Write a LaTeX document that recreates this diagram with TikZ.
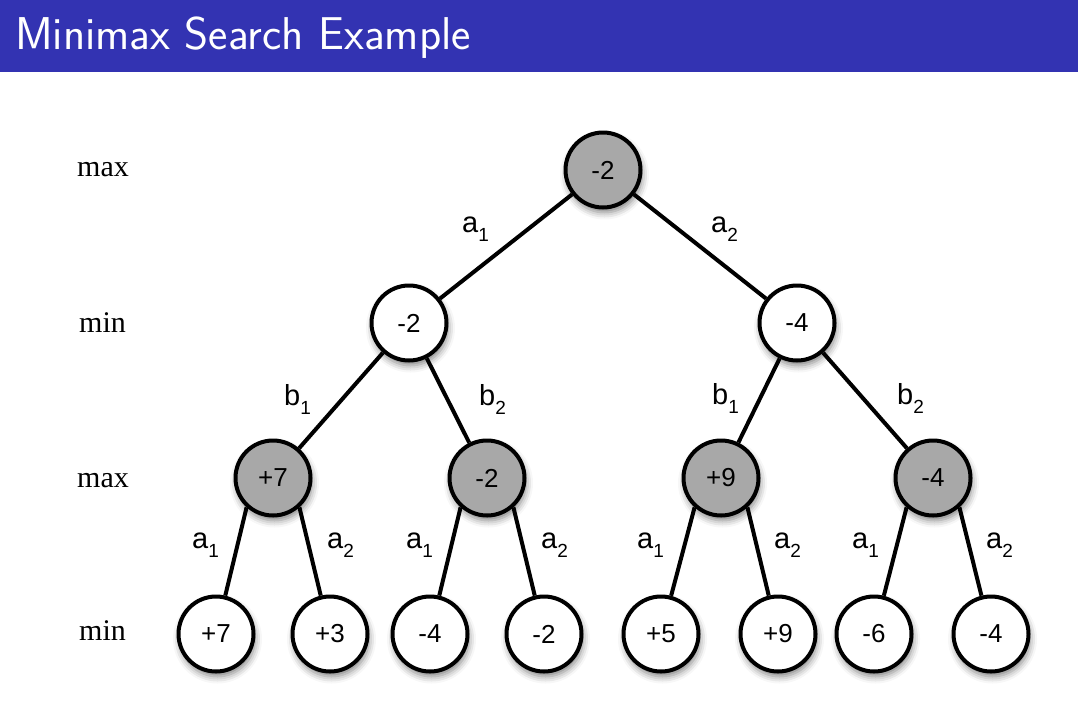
\documentclass[tikz,border=0pt]{standalone}
\usepackage{fontspec}
\newfontfamily\helv{Liberation Sans}
\newfontfamily\tms{Liberation Serif}
\usetikzlibrary{shadows.blur,backgrounds}
\definecolor{titleblue}{RGB}{51,51,178}
\definecolor{maxgray}{RGB}{168,168,168}

% action label: letter with a lowered index
\newcommand\actlab[2]{#1\raisebox{-9pt}{\fontsize{19}{19}\selectfont #2}}

\tikzset{
  state/.style={circle, draw=black, line width=4pt, minimum size=75pt,
    inner sep=0pt, font=\helv\fontsize{26}{26}\selectfont,
    blur shadow={shadow xshift=1.5pt, shadow yshift=-5pt,
      shadow blur radius=7pt, shadow opacity=50}},
  maxnode/.style={state, fill=maxgray},
  minnode/.style={state, fill=white},
  link/.style={line width=4pt},
  lvl/.style={anchor=base west, inner sep=0pt, font=\tms\fontsize{30}{30}\selectfont},
  act/.style={anchor=base west, inner sep=0pt, font=\helv\fontsize{29}{29}\selectfont},
}

\begin{document}
\begin{tikzpicture}[x=1pt, y=-1pt]
  \useasboundingbox (0,0) rectangle (1078,718);

  % title bar
  \fill[titleblue] (0,0) rectangle (1078,72);
  \node[anchor=base west, inner sep=0pt, text=white,
        font=\sffamily\fontsize{46}{46}\selectfont] (title) at (15,49) {Minimax Search Example};

  % level labels
  \node[lvl] (lv0) at (77,176) {max};
  \node[lvl] (lv1) at (79,332) {min};
  \node[lvl] (lv2) at (77,487) {max};
  \node[lvl] (lv3) at (79,640) {min};

  % tree nodes
  \node[maxnode] (r) at (603,170) {-2};

  \node[minnode] (n1) at (409,323) {-2};
  \node[minnode] (n2) at (797,323) {-4};

  \node[maxnode] (m1) at (273,478) {+7};
  \node[maxnode] (m2) at (487,478) {-2};
  \node[maxnode] (m3) at (721,478) {+9};
  \node[maxnode] (m4) at (933,478) {-4};

  \node[minnode] (l1) at (216,634) {+7};
  \node[minnode] (l2) at (330,634) {+3};
  \node[minnode] (l3) at (430,634) {-4};
  \node[minnode] (l4) at (544,634) {-2};
  \node[minnode] (l5) at (661,634) {+5};
  \node[minnode] (l6) at (778,634) {+9};
  \node[minnode] (l7) at (874,634) {-6};
  \node[minnode] (l8) at (991,634) {-4};

  % connectors
  \begin{scope}[on background layer]
    \draw[link] (r) -- (n1);
    \draw[link] (r) -- (n2);
    \draw[link] (n1) -- (m1);
    \draw[link] (n1) -- (m2);
    \draw[link] (n2) -- (m3);
    \draw[link] (n2) -- (m4);
    \draw[link] (m1.228) -- (l1);
    \draw[link] (m1.312) -- (l2);
    \draw[link] (m2.228) -- (l3);
    \draw[link] (m2.312) -- (l4);
    \draw[link] (m3.228) -- (l5);
    \draw[link] (m3.312) -- (l6);
    \draw[link] (m4.228) -- (l7);
    \draw[link] (m4.312) -- (l8);
  \end{scope}

  % action labels
  \node[act] (t1) at (462,232) {\actlab{a}{1}};
  \node[act] (t2) at (711,232) {\actlab{a}{2}};

  \node[act] (u1) at (284,405) {\actlab{b}{1}};
  \node[act] (u2) at (479,405) {\actlab{b}{2}};
  \node[act] (u3) at (712,404) {\actlab{b}{1}};
  \node[act] (u4) at (897,404) {\actlab{b}{2}};

  \node[act] (v1) at (192,548) {\actlab{a}{1}};
  \node[act] (v2) at (327,548) {\actlab{a}{2}};
  \node[act] (v3) at (406,548) {\actlab{a}{1}};
  \node[act] (v4) at (541,548) {\actlab{a}{2}};
  \node[act] (v5) at (637,548) {\actlab{a}{1}};
  \node[act] (v6) at (774,548) {\actlab{a}{2}};
  \node[act] (v7) at (852,548) {\actlab{a}{1}};
  \node[act] (v8) at (986,548) {\actlab{a}{2}};
\end{tikzpicture}
\end{document}
